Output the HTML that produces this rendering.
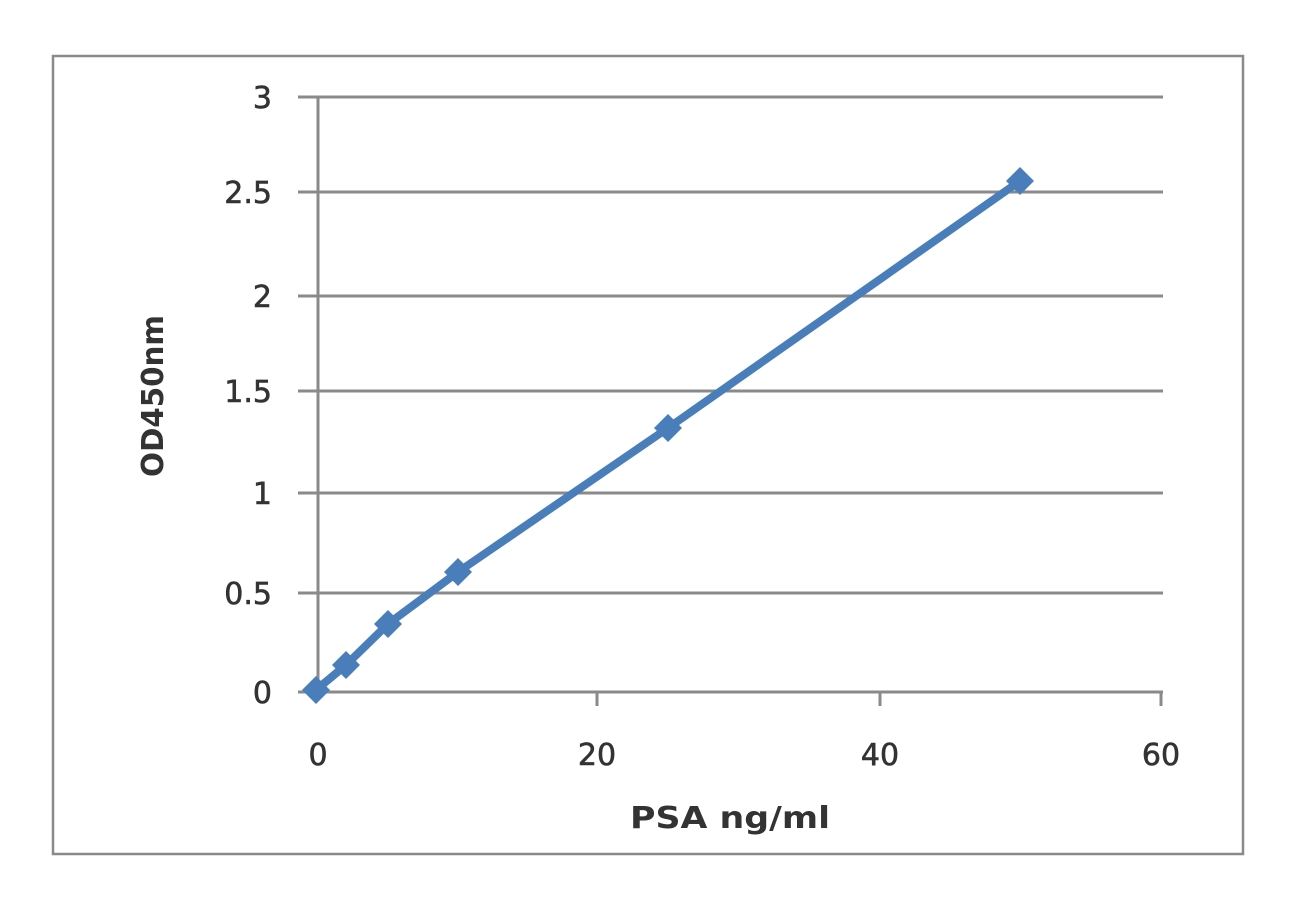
<!DOCTYPE html>
<html><head><style>body{margin:0;background:#fff}</style></head><body>
<svg width="1299" height="900" xmlns="http://www.w3.org/2000/svg" font-family="DejaVu Sans, Liberation Sans, sans-serif">
<rect x="0" y="0" width="1299" height="900" fill="#fff"/>
<rect x="53" y="56" width="1190" height="798" fill="none" stroke="#8a8a8a" stroke-width="2.5"/>
<g stroke="#8a8a8a" stroke-width="3">
<line x1="298" y1="97" x2="1163" y2="97"/>
<line x1="298" y1="192" x2="1163" y2="192"/>
<line x1="298" y1="296" x2="1163" y2="296"/>
<line x1="298" y1="391" x2="1163" y2="391"/>
<line x1="298" y1="493" x2="1163" y2="493"/>
<line x1="298" y1="593" x2="1163" y2="593"/>
<line x1="298" y1="692" x2="1163" y2="692"/>
<line x1="318" y1="97" x2="318" y2="692"/>
<line x1="597" y1="692" x2="597" y2="706"/>
<line x1="880" y1="692" x2="880" y2="706"/>
<line x1="1161" y1="692" x2="1161" y2="706"/>
</g>
<g font-size="30" fill="#333" stroke="#333" stroke-width="0.6" text-anchor="end">
<text x="272" y="108">3</text>
<text x="272" y="203">2.5</text>
<text x="272" y="307">2</text>
<text x="272" y="402">1.5</text>
<text x="272" y="504">1</text>
<text x="272" y="604">0.5</text>
<text x="272" y="703">0</text>
</g>
<g font-size="30" fill="#333" stroke="#333" stroke-width="0.6" text-anchor="middle">
<text x="318" y="765">0</text>
<text x="597" y="765">20</text>
<text x="880" y="765">40</text>
<text x="1161" y="765">60</text>
</g>
<text x="730" y="828" font-size="30" font-weight="bold" fill="#333" text-anchor="middle" textLength="200" lengthAdjust="spacingAndGlyphs">PSA ng/ml</text>
<text transform="translate(163,396) rotate(-90)" font-size="30" font-weight="bold" fill="#333" text-anchor="middle" textLength="162" lengthAdjust="spacingAndGlyphs">OD450nm</text>
<polyline points="316,690 346,665 388,624 458,572 668,428 1020,181" fill="none" stroke="#4a7ebb" stroke-width="8" stroke-linejoin="round"/>
<g fill="#4a7ebb">
<polygon points="316,676 330,690 316,704 302,690"/>
<polygon points="346,651 360,665 346,679 332,665"/>
<polygon points="388,610 402,624 388,638 374,624"/>
<polygon points="458,558 472,572 458,586 444,572"/>
<polygon points="668,414 682,428 668,442 654,428"/>
<polygon points="1020,167 1034,181 1020,195 1006,181"/>
</g>
</svg>
</body></html>
